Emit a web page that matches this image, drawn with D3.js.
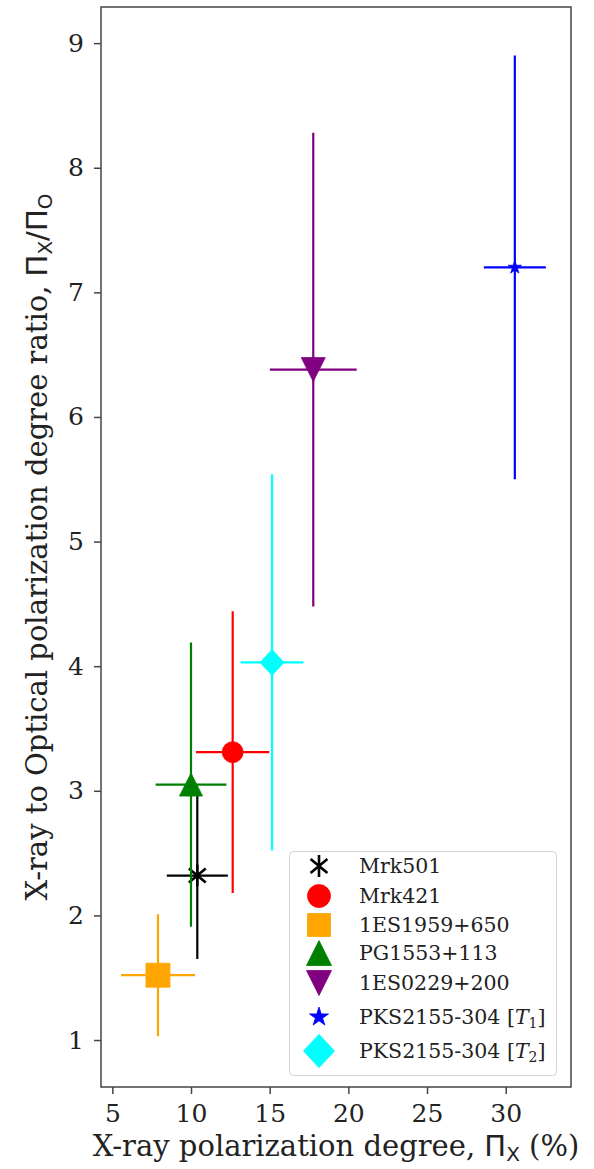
<!DOCTYPE html>
<html>
<head>
<meta charset="utf-8">
<script src="https://cdn.jsdelivr.net/npm/d3@7"></script>
<style>
  html, body { margin: 0; padding: 0; background: #fff; }
  svg { display: block; }
  text { font-family: "DejaVu Serif", serif; fill: #222; }
</style>
</head>
<body>
<svg id="chart" width="594" height="1169"></svg>
<script>
// Blazar sources: X-ray polarization degree vs X-ray/optical polarization ratio
const sources = ["Mrk501", "Mrk421", "1ES1959+650", "PG1553+113", "1ES0229+200", "PKS2155-304 [T1]", "PKS2155-304 [T2]"];
const piX      = [10.40, 12.65, 7.90, 10.00, 17.77, 30.58, 15.15];
const piXErr   = [1.94, 2.33, 2.35, 2.25, 2.76, 1.97, 2.00];
const ratio    = [2.32, 3.31, 1.52, 3.05, 6.38, 7.20, 4.03];
const ratioErr = [0.67, 1.13, 0.49, 1.14, 1.90, 1.70, 1.51];

const xTicks = [5, 10, 15, 20, 25, 30];
const yTicks = [1, 2, 3, 4, 5, 6, 7, 8, 9];

// marker style per source
const markerKinds  = ["asterisk", "circle", "square", "triUp", "triDown", "star", "diamond"];
const markerColors = ["black", "red", "orange", "green", "purple", "blue", "cyan"];
const markerSize   = [11, 10.5, 12, 11.5, 12, 7, 12];
const legendSize   = [11, 11.5, 11.5, 12.5, 12.5, 10, 15.5];

const svg = d3.select("#chart");
const plotLeft = 101, plotRight = 571, plotTop = 7, plotBottom = 1087;

const x = d3.scaleLinear().domain([4.28, 34.15]).range([plotLeft, plotRight]);
const y = d3.scaleLinear().domain([0.623, 9.29]).range([plotBottom, plotTop]);

function shapePath(kind, r) {
  switch (kind) {
    case "circle":
      return `M${r},0A${r},${r} 0 1,1 ${-r},0A${r},${r} 0 1,1 ${r},0Z`;
    case "square":
      return `M${-r},${-r}H${r}V${r}H${-r}Z`;
    case "triUp":
      return `M0,${-r}L${r},${r}L${-r},${r}Z`;
    case "triDown":
      return `M0,${r}L${r},${-r}L${-r},${-r}Z`;
    case "diamond":
      return `M0,${-r * 1.08}L${r},0L0,${r * 1.08}L${-r},0Z`;
    case "star": {
      const pts = [];
      for (let i = 0; i < 10; i++) {
        const rr = i % 2 === 0 ? r : r * 0.381966;
        const a = -Math.PI / 2 + i * Math.PI / 5;
        pts.push([rr * Math.cos(a), rr * Math.sin(a)]);
      }
      return "M" + pts.map(p => p.join(",")).join("L") + "Z";
    }
    case "asterisk": {
      const angles = [90, 270, 40, 140, 220, 320];
      return angles.map(d => {
        const a = d * Math.PI / 180;
        return `M0,0L${(r * Math.cos(a)).toFixed(2)},${(-r * Math.sin(a)).toFixed(2)}`;
      }).join("");
    }
  }
}

function drawMarker(g, i, cx, cy, r) {
  const kind = markerKinds[i], col = markerColors[i];
  const p = g.append("path")
    .attr("d", shapePath(kind, r))
    .attr("transform", `translate(${cx},${cy})`);
  if (kind === "asterisk") {
    p.attr("fill", "none").attr("stroke", col).attr("stroke-width", 2.6).attr("stroke-linecap", "butt");
  } else {
    p.attr("fill", col).attr("stroke", col).attr("stroke-width", 0.8);
  }
}

// axes
const xAxis = d3.axisBottom(x).tickValues(xTicks).tickSize(7).tickPadding(5).tickFormat(d3.format("d"));
const yAxis = d3.axisLeft(y).tickValues(yTicks).tickSize(7).tickPadding(10).tickFormat(d3.format("d"));

const gx = svg.append("g").attr("transform", `translate(0,${plotBottom})`).call(xAxis);
const gy = svg.append("g").attr("transform", `translate(${plotLeft},0)`).call(yAxis);
[gx, gy].forEach(g => {
  g.select(".domain").remove();
  g.selectAll(".tick line").attr("stroke", "#444").attr("stroke-width", 1.5);
  g.selectAll(".tick text").attr("font-family", "DejaVu Serif").attr("font-size", 25).attr("fill", "#222");
});
gx.selectAll(".tick text").attr("dy", "0.9em");

// error bars and markers
const plot = svg.append("g");
sources.forEach((s, i) => {
  const g = plot.append("g");
  const col = markerColors[i];
  g.append("line")
    .attr("x1", x(piX[i] - piXErr[i])).attr("x2", x(piX[i] + piXErr[i]))
    .attr("y1", y(ratio[i])).attr("y2", y(ratio[i]))
    .attr("stroke", col).attr("stroke-width", 2.2);
  g.append("line")
    .attr("x1", x(piX[i])).attr("x2", x(piX[i]))
    .attr("y1", y(ratio[i] - ratioErr[i])).attr("y2", y(ratio[i] + ratioErr[i]))
    .attr("stroke", col).attr("stroke-width", 2.2);
  drawMarker(g, i, x(piX[i]), y(ratio[i]), markerSize[i]);
});

// frame
svg.append("rect")
  .attr("x", plotLeft).attr("y", plotTop)
  .attr("width", plotRight - plotLeft).attr("height", plotBottom - plotTop)
  .attr("fill", "none").attr("stroke", "#444").attr("stroke-width", 1.5);

// legend
const legendRows = [866, 896, 925, 953, 983, 1017, 1051];
const lg = svg.append("g");
lg.append("rect")
  .attr("x", 289.5).attr("y", 851.5).attr("width", 267).attr("height", 224)
  .attr("rx", 4).attr("fill", "white").attr("fill-opacity", 0.85)
  .attr("stroke", "#d3d3d3").attr("stroke-width", 1);
sources.forEach((s, i) => {
  const cy = legendRows[i];
  drawMarker(lg, i, 319, cy, legendSize[i]);
  const t = lg.append("text")
    .attr("x", 359).attr("y", cy + 7)
    .attr("font-size", 20.5).attr("fill", "#333");
  const m = s.match(/^(.*)\[T(\d)\]$/);
  if (m) {
    t.append("tspan").text(m[1] + "[");
    t.append("tspan").attr("font-style", "italic").text("T");
    t.append("tspan").attr("font-size", 14).attr("dy", 4).text(m[2]);
    t.append("tspan").attr("dy", -4).text("]");
  } else {
    t.text(s);
  }
});

// axis titles
const xl = svg.append("text")
  .attr("x", (plotLeft + plotRight) / 2).attr("y", 1156)
  .attr("text-anchor", "middle").attr("font-size", 29).attr("fill", "#222");
xl.append("tspan").text("X-ray polarization degree, ");
xl.append("tspan").attr("font-family", "DejaVu Sans").text("Π");
xl.append("tspan").attr("font-family", "DejaVu Sans").attr("font-size", 20).attr("dy", 5).text("X");
xl.append("tspan").attr("dy", -5).text(" (%)");

const yl = svg.append("text")
  .attr("transform", `translate(47,${(plotTop + plotBottom) / 2}) rotate(-90)`)
  .attr("text-anchor", "middle").attr("font-size", 29).attr("fill", "#222");
yl.append("tspan").text("X-ray to Optical polarization degree ratio, ");
yl.append("tspan").attr("font-family", "DejaVu Sans").text("Π");
yl.append("tspan").attr("font-family", "DejaVu Sans").attr("font-size", 20).attr("dy", 5).text("X");
yl.append("tspan").attr("font-family", "DejaVu Sans").attr("dy", -5).text("/Π");
yl.append("tspan").attr("font-family", "DejaVu Sans").attr("font-size", 20).attr("dy", 5).text("O");
</script>
</body>
</html>
